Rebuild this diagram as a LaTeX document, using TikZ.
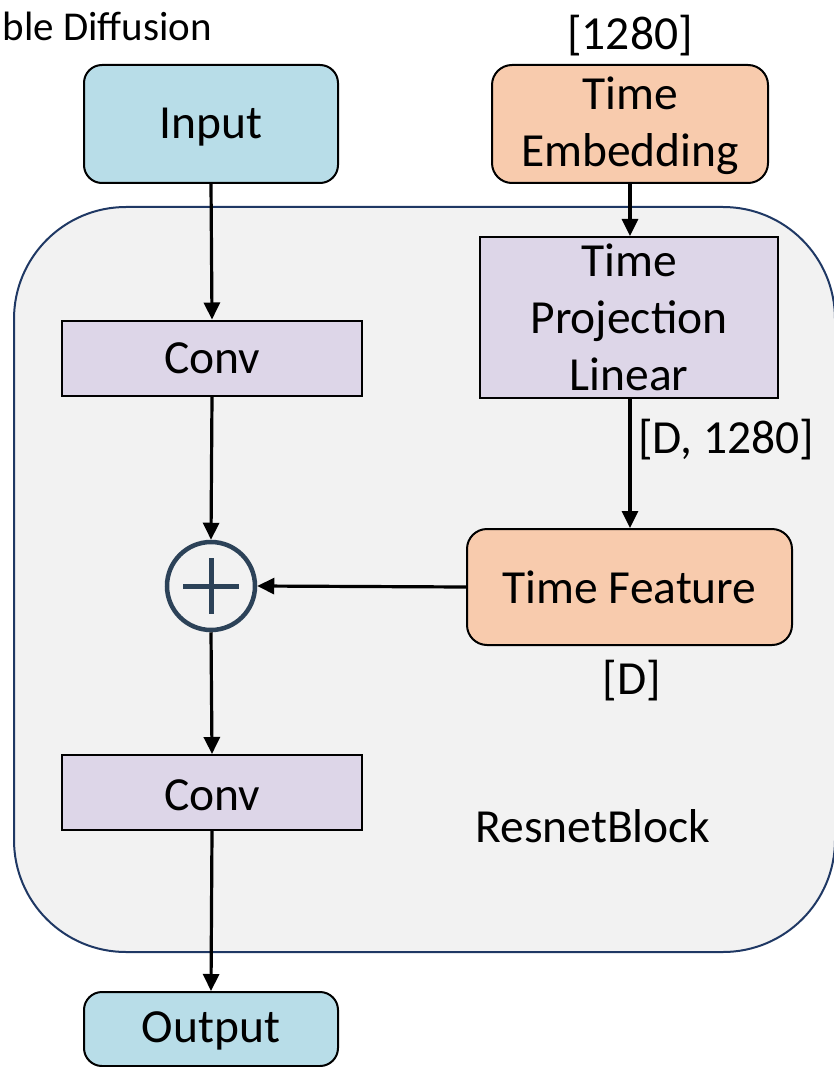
\documentclass[tikz,border=0pt]{standalone}
\usepackage{fontspec}
\setmainfont{Carlito}
\usetikzlibrary{arrows.meta}
\definecolor{bluefill}{RGB}{184,221,232}
\definecolor{peach}{RGB}{248,203,173}
\definecolor{lav}{RGB}{221,214,232}
\definecolor{bgfill}{RGB}{242,242,242}
\definecolor{navy}{RGB}{31,56,100}
\definecolor{slate}{RGB}{44,66,88}
\begin{document}
\begin{tikzpicture}[x=1pt,y=-1pt,
  txt/.style={inner sep=0pt, align=center, font=\fontsize{47.5}{57}\selectfont},
  box/.style={txt, draw=black, line width=2pt},
  termbox/.style={box, fill=bluefill, rounded corners=18pt},
  timebox/.style={box, fill=peach, rounded corners=20pt},
  layerbox/.style={box, fill=lav},
  arr/.style={line width=3.2pt, -{Triangle[length=17pt,width=16pt]}},
]
\useasboundingbox (0,0) rectangle (833,1067);
% ResnetBlock container
\draw[fill=bgfill, draw=navy, line width=2pt, rounded corners=112pt] (14,207) rectangle (835,952);
\node[txt] (rblabel) at (593,826) {ResnetBlock};

% header label
\node[txt, anchor=east, font=\fontsize{41}{50}\selectfont] (sd) at (212,26) {ble Diffusion};

% left column
\node[termbox, minimum width=254pt, minimum height=118pt] (input) at (211,124) {};
\node[txt] (inputtext) at (211,127) {Input};
\node[layerbox, minimum width=300pt, minimum height=75pt] (conv1) at (212,358) {Conv};
\node[circle, draw=slate, line width=4.5pt, minimum size=88pt, inner sep=0pt] (plus) at (211,586) {};
\draw[slate, line width=5pt] (183,586) -- (239,586) (211,558) -- (211,614);
\node[layerbox, minimum width=300pt, minimum height=75pt] (conv2) at (212,792.5) {};
\node[txt] (conv2text) at (212,795) {Conv};
\node[termbox, minimum width=254pt, minimum height=74pt] (output) at (211,1029) {};
\node[txt] (outputtext) at (211,1031) {Output};

% right column
\node[txt] (dim1) at (630,36) {[1280]};
\node[timebox, minimum width=276pt, minimum height=118pt] (temb) at (630,124) {};
\node[txt] (tembtext) at (630,126) {Time\\Embedding};
\node[layerbox, minimum width=298pt, minimum height=161pt] (proj) at (629,317.5) {Time\\Projection\\Linear};
\node[txt, anchor=west] (dim2) at (638,440) {[D, 1280]};
\node[timebox, minimum width=325pt, minimum height=116pt] (tf) at (629.5,587) {Time Feature};
\node[txt] (dim3) at (632,681) {[D]};

% connectors
\draw[arr] (input.south) -- (conv1.north);
\draw[arr] (conv1.south) -- (plus.north);
\draw[arr] (plus.south) -- (conv2.north);
\draw[arr] (conv2.south) -- (output.north);
\draw[arr] (temb.south) -- (temb.south |- proj.north);
\draw[arr] (temb.south |- proj.south) -- (temb.south |- tf.north);
\draw[arr] (tf.west) -- (plus.east);
\end{tikzpicture}
\end{document}
